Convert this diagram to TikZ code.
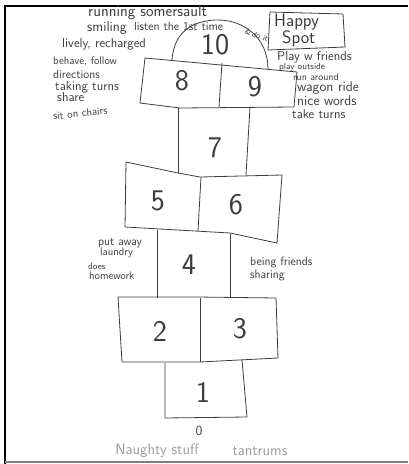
\documentclass[tikz,border=0pt]{standalone}
\usepackage{xcolor}
\definecolor{ink}{HTML}{3C3C3C}
\definecolor{printgray}{HTML}{9A9A9A}
\tikzset{
  hop/.style={draw=ink, line width=0.8pt, line join=round},
  hand/.style={text=ink, inner sep=0pt, anchor=west},
  digit/.style={text=ink, inner sep=0pt, font=\sffamily\fontsize{30}{30}\selectfont},
}
\newcommand{\handsz}[1]{\sffamily\fontsize{#1}{#1}\selectfont}

\begin{document}
\begin{tikzpicture}[x=1pt, y=-1pt]
    \useasboundingbox (0,0) rectangle (408,464);

    % ===== frame =====
    \draw[line width=2pt, black] (5,464) -- (5,6) -- (408,6);
    \draw[line width=1.5pt, gray] (5,462) -- (408,462);

    % ===== hopscotch =====
    % 10 (dome)
    \draw[hop] (172,60) .. controls (174,28) and (198,20) .. (218,20)
               .. controls (244,20) and (268,38) .. (268,69);
    % 8 | 9
    \draw[hop] (145,58) -- (297,72) -- (294,107) -- (180,108) -- (140,103) -- cycle;
    \draw[hop] (222,63) -- (219,107);
    % 7
    \draw[hop] (178,108) -- (178,173);
    \draw[hop] (250,107) -- (246,175);
    % 5 | 6
    \draw[hop] (126,162) -- (178,173) -- (200,177) -- (282,175) -- (277,243)
               -- (230,233) -- (125,227) -- cycle;
    \draw[hop] (201,177) -- (198,231);
    % 4
    \draw[hop] (157,230) -- (157,298);
    \draw[hop] (230,234) -- (230,298);
    % 2 | 3
    \draw[hop] (118,297) -- (197,297) -- (276,298) -- (278,358) -- (200,362)
               -- (122,362) -- cycle;
    \draw[hop] (200,298) -- (200,362);
    % 1
    \draw[hop] (165,363) -- (165,418) -- (247,417) -- (242,360);

    % numbers
    \foreach \n/\x/\y in {10/215/45, 8/182/81, 9/255/87, 7/215/148, 5/158/201,
                          6/236/205, 4/189/265, 2/160/331, 3/240/329, 1/203/392} {
        \node[digit] (d\n) at (\x,\y) {\n};
    }
    \node[text=ink, font=\handsz{14}] (d0) at (199,431) {0};

    % ===== left: what helps =====
    \node[hand, font=\handsz{16}] (run) at (88,13) {running somersault};
    \node[hand, font=\handsz{14}] (smile) at (87,28) {smiling};
    \node[hand, font=\handsz{12}] (listen) at (134,26) {listen the 1st time};
    \node[hand, font=\handsz{8}, rotate=-20] (doit) at (245,31) {\&\,do it};
    \node[hand, font=\handsz{13}] (lively) at (62,44) {lively, recharged};
    \node[hand, font=\handsz{11}] (behave) at (53,61) {behave, follow};
    \node[hand, font=\handsz{12}] (direct) at (53,74) {directions};
    \node[hand, font=\handsz{13}] (taking) at (55,87) {taking turns};
    \node[hand, font=\handsz{13}] (share) at (57,97) {share};
    \node[hand, font=\handsz{11}, rotate=6] (chairs) at (53,116) {sit on chairs};

    % ===== right: happy spot =====
    \draw[hop] (270,12) -- (343,14) -- (345,47) -- (268,50) -- cycle;
    \node[hand, font=\handsz{18}] (happy) at (274,22) {Happy};
    \node[hand, font=\handsz{18}] (spot) at (282,39) {Spot};
    \node[hand, font=\handsz{13}] (play) at (277,57) {Play w friends};
    \node[hand, font=\handsz{9}] (outside) at (279,67) {play outside};
    \node[hand, font=\handsz{10}] (around) at (293,77) {run around};
    \node[hand, font=\handsz{14}] (wagon) at (297,88) {wagon ride};
    \node[hand, font=\handsz{14}] (nice) at (297,101) {nice words};
    \node[hand, font=\handsz{13}] (take) at (292,114) {take turns};

    % ===== middle =====
    \node[hand, font=\handsz{12}] (away) at (98,243) {put away};
    \node[hand, font=\handsz{11}] (laundry) at (100,253) {laundry};
    \node[hand, font=\handsz{9}] (does) at (88,266) {does};
    \node[hand, font=\handsz{11}] (homework) at (89,276) {homework};
    \node[hand, font=\handsz{12}] (friends) at (250,263) {being friends};
    \node[hand, font=\handsz{12}] (sharing) at (250,276) {sharing};

    % ===== bottom =====
    \node[text=printgray, font=\handsz{15}] (naughty) at (157,451) {Naughty stuff};
    \node[text=printgray, font=\handsz{15}] (tantrums) at (260,451) {tantrums};
\end{tikzpicture}
\end{document}
